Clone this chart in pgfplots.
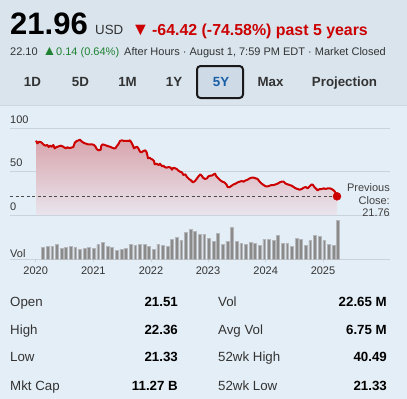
\documentclass[border=0pt]{standalone}
\usepackage{fontspec}
\setmainfont{Liberation Sans}
\usepackage{pgfplots}
\pgfplotsset{compat=1.18}
\usepackage{pgfplotstable}
\definecolor{bgtop}{RGB}{217,228,237}
\definecolor{bgmain}{RGB}{228,238,246}
\definecolor{gridc}{RGB}{200,211,222}
\definecolor{redc}{RGB}{204,0,0}
\definecolor{greenc}{RGB}{30,130,50}
\definecolor{txt}{RGB}{51,51,51}
\definecolor{fillTop}{RGB}{216,165,173}
\definecolor{fillBot}{RGB}{233,229,237}
\definecolor{volc}{RGB}{138,138,138}
\definecolor{voledge}{RGB}{180,182,186}
\definecolor{btnfill}{RGB}{206,219,231}
\definecolor{bluec}{RGB}{25,95,165}
\newcommand{\fs}[1]{\fontsize{#1bp}{#1bp}\selectfont}

\pgfplotstableread{
x y
36.0 85.97
37.33 82.9
39.33 84.8
41.33 84.05
43.33 81.7
45.33 80.2
47.33 81.0
48.67 78.7
50 80.2
52 79.05
53.33 81.0
54.67 77.1
56.67 78.7
58.67 79.4
60.67 80.2
62.67 79.4
64.67 77.9
66 77.1
67.33 78.3
69.33 77.5
71.33 77.9
73.33 78.7
74.67 83.3
76.67 85.6
78.67 86.35
80 87.1
82 84.8
84 83.3
86 82.5
88 81.7
90 81.7
92 81.7
94 81.0
95.33 79.4
96.67 76.35
98.67 74.8
100.67 75.6
101.33 80.2
102.67 81.7
104.67 81.0
106.67 80.2
108.67 79.4
110.67 78.7
112 77.9
114 77.1
115.33 77.1
116.67 79.4
118.67 82.5
120 85.6
122 86.35
124 85.6
126.67 85.6
128.67 85.6
130 86.35
131.33 84.05
132.67 81.0
134 77.1
136 78.7
137.33 78.7
138.67 76.35
140 73.3
141.33 72.5
143.33 74.05
145.33 74.8
146.67 72.5
147.33 69.4
148 65.6
149.33 66.4
151.33 64.8
152.67 64.05
154 62.5
154.67 58.7
156.67 59.4
158.67 57.9
160 59.4
162 56.4
163.33 57.1
164.67 55.6
166.67 54.8
168.67 55.6
170.67 54.8
172 52.5
173.33 54.8
175.33 54.05
176.67 53.3
178 51.75
180 50.2
182 49.4
183.33 46.4
185.33 47.1
187 44.05
189 41.75
191 40.2
193 37.9
195 39.4
197 42.5
199 45.6
200.33 47.1
201.67 45.6
203 43.3
205 41.75
207 42.5
208.33 44.8
210.33 45.6
211.67 45.6
213.67 47.1
215 47.9
216.33 44.8
218.33 42.5
220.33 40.2
222.33 38.7
224.33 37.9
226.33 35.6
227.67 32.5
229.67 32.5
231.67 34.05
233.67 35.6
235.67 36.4
237.67 37.9
239.67 38.7
241.67 39.4
243.67 38.7
245.67 40.2
247.67 41.0
249.67 42.5
251.67 43.3
253.67 43.3
255.67 42.5
257.67 41.75
259.67 38.7
261.67 36.4
263.67 34.8
265.67 33.3
267.67 33.3
269.67 34.05
271.67 34.8
273.67 34.8
275.67 35.6
277.67 36.4
279.67 37.9
281.67 38.7
283.67 38.7
285.67 36.4
287.67 35.6
289.67 34.8
291.67 34.05
293.67 32.5
295.67 31.0
297.67 30.2
299.67 29.45
301.67 30.2
303.67 31.7
305.67 32.5
307.67 31.0
309.67 33.3
311.67 35.6
313 34.8
314.33 32.5
315.67 31.0
317.67 28.7
319.67 30.2
321.67 30.2
323.67 31.0
325.67 30.2
327.67 31.0
329.67 31.0
331.67 30.2
333.67 28.7
335 27.1
337 21.76
}\pricedata

\pgfplotstableread{
x v
43.00 12.3
47.61 13
52.22 13
56.83 15.3
61.44 11.3
66.05 11.7
70.65 12.7
75.26 12
79.87 10
84.48 10.7
89.09 12.3
93.70 11.3
98.31 15
102.92 17
107.53 13
112.14 11.7
116.74 8.7
121.35 10
125.96 10.7
130.57 15
135.18 14.3
139.79 15
144.40 15
149.01 13.3
153.62 10.3
158.23 15
162.83 14
167.44 12.7
172.05 20
176.66 22
181.27 19.3
185.88 26.7
190.49 30.3
195.10 28.3
199.71 25.3
204.32 25.3
208.92 20.7
213.53 18.3
218.14 26
222.75 14.7
227.36 18.3
231.97 32.3
236.58 18
241.19 16
245.80 15.3
250.41 17.3
255.01 16.3
259.62 14.3
264.23 20.3
268.84 20
273.45 19.3
278.06 24.3
282.67 16.3
287.28 16.3
291.89 13.3
296.50 21
301.10 20.3
305.71 13.7
310.32 18.7
314.93 24
319.54 23
324.15 18.7
328.76 15
333.37 14.3
337.98 39
}\voldata

\begin{document}
\begin{tikzpicture}[x=1bp,y=1bp]
\useasboundingbox (0,0) rectangle (407,-399);
\fill[bgmain] (0,0) rectangle (407,-399);
\fill[bgtop] (0,0) rectangle (407,-105);
\draw[gridc!70!bgtop, line width=0.8bp] (0,-105) -- (407,-105);

% header
\node[anchor=base west, inner sep=0, text=black] at (10,-34.3) {\fs{31}\bfseries 21.96};
\node[anchor=base west, inner sep=0, text=txt] at (95,-34.3) {\fs{13.3}USD};
\node[anchor=base west, inner sep=0, text=redc] at (131.5,-35) {\fs{18}▼};
\node[anchor=base west, inner sep=0, text=redc] at (152,-35) {\fs{15.9}\bfseries -64.42 (-74.58\%) past 5 years};
\node[anchor=base west, inner sep=0, text=txt] at (10,-55) {\fs{11}22.10};
\node[anchor=base west, inner sep=0, text=greenc] at (42.5,-55) {\fs{14}▲};
\node[anchor=base west, inner sep=0, text=greenc] at (56,-55) {\fs{11}0.14 (0.64\%)};
\node[anchor=base west, inner sep=0, text=txt] at (124,-55) {\fs{11}After Hours · August 1, 7:59 PM EDT · Market Closed};

% range buttons
\draw[fill=btnfill, draw=black!90, line width=2bp, rounded corners=3.5bp] (197,-66) rectangle (243,-98);
\foreach \xx/\lab in {32.5/1D, 80.5/5D, 127.5/1M, 174/1Y, 270.5/Max, 344.5/Projection}{
  \node[anchor=base, inner sep=0, text=txt] at (\xx,-86.3) {\fs{13.3}\bfseries \lab};
}
\node[anchor=base, inner sep=0, text=bluec] at (221,-86.3) {\fs{13.3}\bfseries 5Y};

% price axis
\begin{axis}[
  at={(10bp,-215.2bp)}, anchor=south west,
  scale only axis, width=380bp, height=86.7bp,
  xmin=10, xmax=390, ymin=0, ymax=100,
  axis line style={draw=none}, tick style={draw=none},
  xtick=\empty, ytick={0,50,100}, yticklabels={},
  ymajorgrids, major grid style={color=gridc, line width=1bp},
  clip=false,
]
\addplot[draw=none, top color=fillTop, bottom color=fillBot] table[x=x,y=y] {\pricedata} \closedcycle;
\addplot[color=black!70, line width=0.8bp, dash pattern=on 3bp off 2.5bp] coordinates {(10,21.76) (337,21.76)};
\addplot[color=redc, line width=2bp, line join=round] table[x=x,y=y] {\pricedata};
\addplot[only marks, mark=*, mark size=4bp, color=redc] coordinates {(337,21.76)};
\end{axis}

% volume axis
\begin{axis}[
  at={(10bp,-259.3bp)}, anchor=south west,
  scale only axis, width=380bp, height=40bp,
  xmin=10, xmax=390, ymin=0, ymax=40,
  enlargelimits=false,
  axis y line=none, axis x line=bottom,
  x axis line style={-, color=gridc, line width=1.2bp},
  xtick={35.7,93.3,151,208,265.7,323},
  xticklabels={2020,2021,2022,2023,2024,2025},
  tick align=outside, major tick length=3bp,
  x tick style={color=gridc, line width=1bp},
  xticklabel style={font=\fs{11}, text=txt, yshift=-1bp},
  ybar, bar width=2.8bp,
  clip=false,
]
\addplot[fill=volc, draw=voledge, line width=0.5bp] table[x=x,y=v] {\voldata};
\end{axis}

% axis texts
\node[anchor=base west, inner sep=0, text=txt] at (10,-123.3) {\fs{11}100};
\node[anchor=base west, inner sep=0, text=txt] at (10,-166.7) {\fs{11}50};
\node[anchor=base west, inner sep=0, text=txt] at (10,-210) {\fs{11}0};
\node[anchor=base west, inner sep=0, text=txt] at (10,-257.5) {\fs{11}Vol};
\node[anchor=base east, inner sep=0, text=black!75] at (390,-191) {\fs{11}Previous};
\node[anchor=base east, inner sep=0, text=black!75] at (390,-204) {\fs{11}Close:};
\node[anchor=base east, inner sep=0, text=black!75] at (390,-216.7) {\fs{11}21.76};

% stats
\foreach \yy/\la/\va/\lb/\vb in {306.7/Open/21.51/Vol/22.65 M, 334/High/22.36/Avg Vol/6.75 M, 361.7/Low/21.33/52wk High/40.49, 390/Mkt Cap/11.27 B/52wk Low/21.33}{
  \node[anchor=base west, inner sep=0, text=txt] at (10,-\yy) {\fs{13.3}\la};
  \node[anchor=base east, inner sep=0, text=black] at (178,-\yy) {\fs{13.3}\bfseries \va};
  \node[anchor=base west, inner sep=0, text=txt] at (218,-\yy) {\fs{13.3}\lb};
  \node[anchor=base east, inner sep=0, text=black] at (387,-\yy) {\fs{13.3}\bfseries \vb};
}
\end{tikzpicture}
\end{document}
